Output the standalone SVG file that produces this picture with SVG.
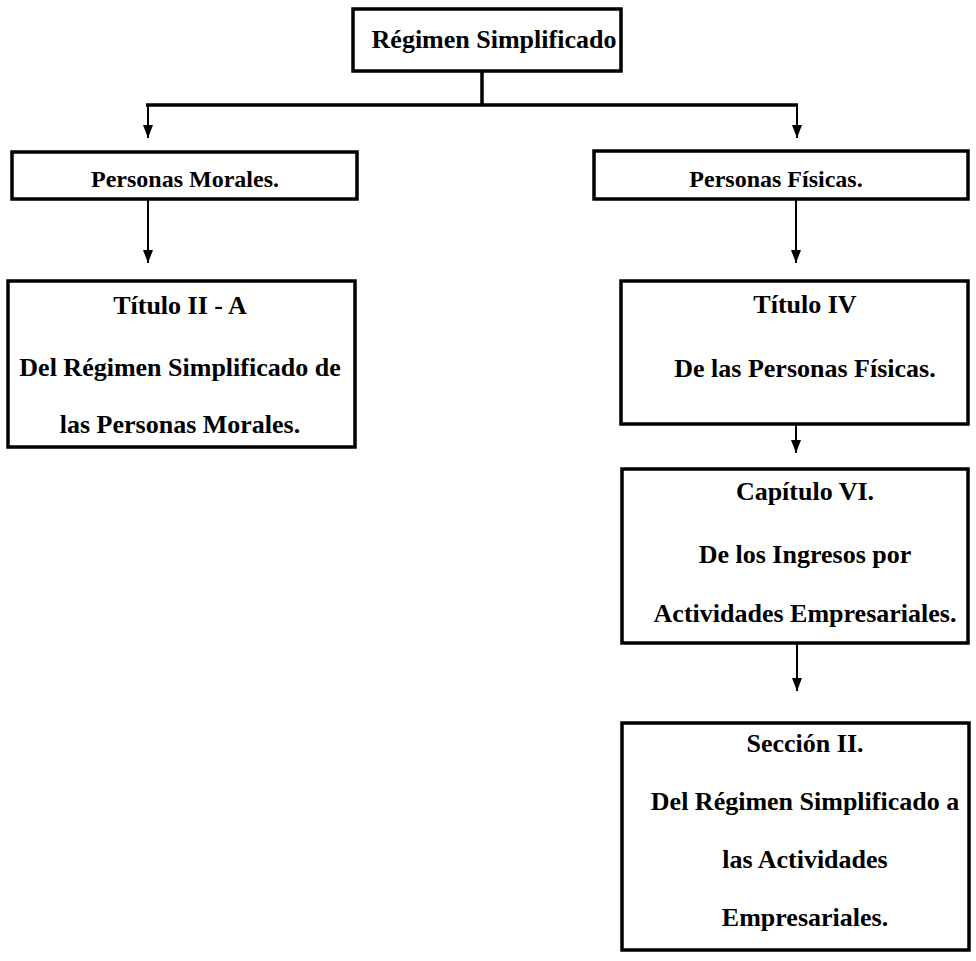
<svg xmlns="http://www.w3.org/2000/svg" width="976" height="961" viewBox="0 0 976 961">
<style>
.box{fill:#fff;stroke:#000;stroke-width:3.5}
.t{font-family:"Liberation Serif","Times New Roman",serif;font-weight:bold;font-size:26px;fill:#000;text-anchor:middle}
.s{font-size:24px}
.c{fill:none;stroke:#000;stroke-width:2}
.c3{fill:none;stroke:#000;stroke-width:3.5}
</style>
<defs>
<marker id="ah" markerUnits="userSpaceOnUse" markerWidth="13" markerHeight="10" viewBox="0 0 13 10" refX="13" refY="5" orient="auto">
<path d="M0,0 L13,5 L0,10 z" fill="#000"/>
</marker>
</defs>
<rect width="976" height="961" fill="#fff"/>
<g id="connectors">
<line class="c3" x1="482" y1="71" x2="482" y2="105"/>
<line class="c3" x1="146" y1="105" x2="798" y2="105"/>
<line class="c" x1="148" y1="105" x2="148" y2="138" marker-end="url(#ah)"/>
<line class="c" x1="797" y1="105" x2="797" y2="138" marker-end="url(#ah)"/>
<line class="c" x1="148" y1="199" x2="148" y2="263" marker-end="url(#ah)"/>
<line class="c" x1="796" y1="199" x2="796" y2="263" marker-end="url(#ah)"/>
<line class="c" x1="796" y1="424" x2="796" y2="453" marker-end="url(#ah)"/>
<line class="c" x1="797" y1="643" x2="797" y2="691" marker-end="url(#ah)"/>
</g>
<g id="n-regimen">
<rect class="box" x="353" y="9" width="268" height="62"/>
<text class="t" x="494" y="48">Régimen Simplificado</text>
</g>
<g id="n-morales">
<rect class="box" x="12" y="152" width="345" height="47"/>
<text class="t s" x="185" y="187">Personas Morales.</text>
</g>
<g id="n-fisicas">
<rect class="box" x="594" y="151" width="374" height="48"/>
<text class="t s" x="776" y="187">Personas Físicas.</text>
</g>
<g id="n-titulo2a">
<rect class="box" x="8" y="281" width="347" height="166"/>
<text class="t" x="180" y="314">Título II - A</text>
<text class="t" x="180" y="376">Del Régimen Simplificado de</text>
<text class="t" x="180" y="433">las Personas Morales.</text>
</g>
<g id="n-titulo4">
<rect class="box" x="621" y="281" width="347" height="143"/>
<text class="t" x="805" y="313">Título IV</text>
<text class="t" x="805" y="377">De las Personas Físicas.</text>
</g>
<g id="n-capitulo6">
<rect class="box" x="622" y="469" width="346" height="174"/>
<text class="t" x="805" y="500">Capítulo VI.</text>
<text class="t" x="805" y="563">De los Ingresos por</text>
<text class="t" x="805" y="622">Actividades Empresariales.</text>
</g>
<g id="n-seccion2">
<rect class="box" x="622" y="723" width="347" height="227"/>
<text class="t" x="805" y="752">Sección II.</text>
<text class="t" x="805" y="810">Del Régimen Simplificado a</text>
<text class="t" x="805" y="868">las Actividades</text>
<text class="t" x="805" y="926">Empresariales.</text>
</g>
</svg>
